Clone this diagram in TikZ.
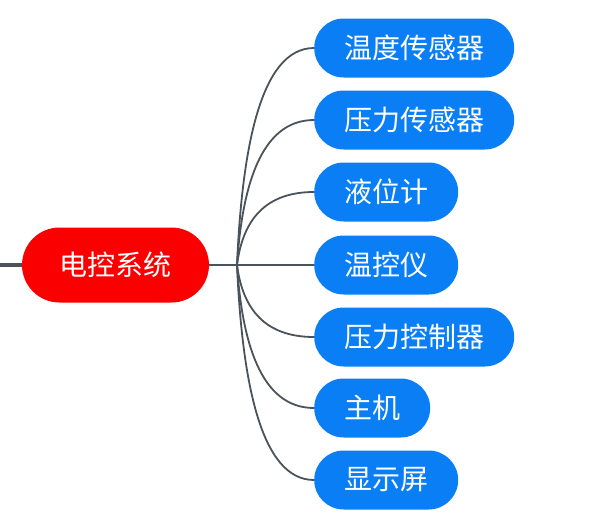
\documentclass[tikz,border=0pt]{standalone}
\usepackage{fontspec}
\usetikzlibrary{calc}
\newfontfamily\cjk{Noto Sans CJK SC}
\definecolor{leafblue}{RGB}{10,127,245}
\definecolor{rootred}{RGB}{250,0,0}
\definecolor{linegray}{RGB}{74,82,90}
\begin{document}
\begin{tikzpicture}[x=1pt,y=-1pt,
  leaf/.style={fill=leafblue,text=white,font=\cjk\fontsize{28}{28}\selectfont,
    rounded corners=29.5pt,minimum height=59pt,inner xsep=30pt,inner ysep=0pt,anchor=west},
  root/.style={fill=rootred,text=white,font=\cjk\fontsize{28}{28}\selectfont,
    rounded corners=37.5pt,minimum height=75pt,minimum width=187pt,inner sep=0pt},
  conn/.style={draw=linegray,line width=1.8pt}]
\useasboundingbox (0,0) rectangle (590,531);
\node[root] (r) at (115.5,265) {电控系统};
\coordinate (s) at (0,265);
\coordinate (bp) at (237,265);
\node[leaf] (l1) at (314,48) {温度传感器};
\node[leaf] (l2) at (314,120) {压力传感器};
\node[leaf] (l3) at (314,192) {液位计};
\node[leaf] (l4) at (314,265) {温控仪};
\node[leaf] (l5) at (314,337) {压力控制器};
\node[leaf] (l6) at (314,408) {主机};
\node[leaf] (l7) at (314,480) {显示屏};
\draw[conn,line width=3.5pt] (s) -- (r.west);
\draw[conn] (r.east) -- (bp);
\draw[conn] (bp) -- (l4.west);
\foreach \n in {l1,l2,l3,l5,l6,l7}{
  \draw[conn] (bp) .. controls ($(bp)!0.53!(bp |- \n.west)+(5,0)$)
    and ($(\n.west)!0.7!(\n.west -| bp)$) .. (\n.west);
}
\end{tikzpicture}
\end{document}
